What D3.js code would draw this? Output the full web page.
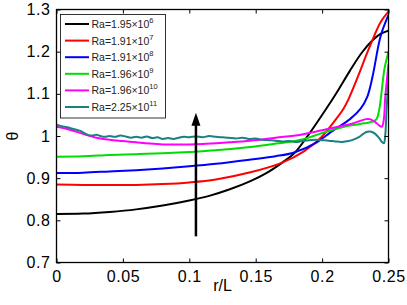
<!DOCTYPE html>
<html>
<head>
<meta charset="utf-8">
<script src="https://cdn.jsdelivr.net/npm/d3@7"></script>
<style>
  body { margin: 0; background: #fff; }
  svg { display: block; font-family: "Liberation Sans", Arial, Helvetica, sans-serif; }
  .tick text { font-size: 16px; fill: #000; }
</style>
</head>
<body>
<svg id="chart" width="407" height="305"></svg>
<script>
// series: [r/L, theta]
var black   = [[0,0.815],[0.02,0.816],[0.04,0.82],[0.06,0.826],[0.08,0.835],[0.1,0.847],[0.115,0.858],[0.13,0.873],[0.146,0.893],[0.158,0.912],[0.17,0.937],[0.179,0.959],[0.19,1.004],[0.203,1.064],[0.212,1.108],[0.221,1.155],[0.23,1.198],[0.238,1.227],[0.244,1.242],[0.25,1.25]];
var red     = [[0,0.885],[0.02,0.884],[0.04,0.884],[0.06,0.884],[0.08,0.886],[0.1,0.89],[0.12,0.897],[0.146,0.914],[0.17,0.937],[0.186,0.963],[0.2,0.999],[0.21,1.038],[0.216,1.064],[0.22,1.088],[0.228,1.149],[0.233,1.19],[0.238,1.228],[0.244,1.27],[0.25,1.295]];
var blue    = [[0,0.912],[0.02,0.913],[0.04,0.916],[0.06,0.919],[0.08,0.923],[0.1,0.928],[0.12,0.934],[0.146,0.944],[0.165,0.952],[0.179,0.961],[0.196,0.985],[0.206,1.008],[0.221,1.04],[0.229,1.065],[0.234,1.093],[0.238,1.141],[0.244,1.236],[0.25,1.287]];
var green   = [[0,0.951],[0.02,0.952],[0.04,0.955],[0.06,0.957],[0.08,0.959],[0.1,0.962],[0.12,0.966],[0.146,0.974],[0.165,0.982],[0.184,0.991],[0.206,1.013],[0.221,1.025],[0.232,1.03],[0.238,1.034],[0.241,1.04],[0.243,1.062],[0.245,1.11],[0.247,1.16],[0.25,1.2]];
var magenta = [[0,1.022],[0.01,1.015],[0.02,1.005],[0.03,0.996],[0.04,0.991],[0.05,0.988],[0.06,0.985],[0.07,0.982],[0.08,0.98],[0.09,0.98],[0.1,0.98],[0.11,0.981],[0.12,0.983],[0.13,0.985],[0.146,0.989],[0.165,0.996],[0.184,1.003],[0.206,1.018],[0.221,1.028],[0.228,1.035],[0.233,1.04],[0.236,1.04],[0.24,1.033],[0.243,1.025],[0.245,1.022],[0.2465,1.04],[0.2475,1.09],[0.249,1.14],[0.25,1.17]];
var teal    = [[0,1.027],[0.003,1.024],[0.006,1.022],[0.009,1.02],[0.012,1.017],[0.015,1.015],[0.018,1.012],[0.021,1.007],[0.024,1.002],[0.027,1.001],[0.03,1.003],[0.033,1.0],[0.036,0.998],[0.04,1.0],[0.044,0.998],[0.048,1.001],[0.052,0.999],[0.056,0.996],[0.06,0.998],[0.064,0.996],[0.068,0.999],[0.072,0.995],[0.076,0.997],[0.08,0.993],[0.084,0.995],[0.088,0.993],[0.092,0.996],[0.096,0.998],[0.1,0.997],[0.105,0.999],[0.11,0.997],[0.115,1.0],[0.12,0.998],[0.125,0.997],[0.13,0.996],[0.135,0.994],[0.14,0.996],[0.145,0.993],[0.15,0.994],[0.155,0.991],[0.16,0.99],[0.165,0.989],[0.17,0.987],[0.175,0.988],[0.18,0.986],[0.185,0.988],[0.19,0.99],[0.195,0.991],[0.2,0.99],[0.205,0.989],[0.21,0.987],[0.215,0.986],[0.22,0.988],[0.224,0.992],[0.228,0.998],[0.231,1.005],[0.234,1.01],[0.237,1.01],[0.24,1.005],[0.243,0.995],[0.245,0.986],[0.2465,0.983],[0.2475,1.0],[0.2485,1.06],[0.25,1.14]];

var seriesData   = [black, red, blue, green, magenta, teal];
var seriesColors = ["#000000", "#ff0000", "#0000ff", "#00dd00", "#ff00ff", "#1a8080"];
var legendMant   = ["1.95", "1.91", "1.91", "1.96", "1.96", "2.25"];
var legendExp    = ["6", "7", "8", "9", "10", "11"];

var xTicks = [0, 0.05, 0.1, 0.15, 0.2, 0.25];
var xTickLabels = ["0", "0.05", "0.1", "0.15", "0.2", "0.25"];
var yTicks = [0.7, 0.8, 0.9, 1, 1.1, 1.2, 1.3];
var yTickLabels = ["0.7", "0.8", "0.9", "1", "1.1", "1.2", "1.3"];

// arrow: from low to high Ra
var arrowX = 0.105;
var arrowY = [0.762, 1.055];

var svg = d3.select("#chart");
var m = { left: 56.5, right: 18.5, top: 9.5, bottom: 42.5 };
var W = 407 - m.left - m.right, H = 305 - m.top - m.bottom;

var x = d3.scaleLinear().domain([0, 0.25]).range([0, W]);
var y = d3.scaleLinear().domain([0.7, 1.3]).range([H, 0]);

var g = svg.append("g").attr("transform", "translate(" + m.left + "," + m.top + ")");

var defs = svg.append("defs");
defs.append("clipPath").attr("id", "clip")
  .append("rect").attr("x", 0).attr("y", 0).attr("width", W).attr("height", H);

var line = d3.line()
  .x(function(d) { return x(d[0]); })
  .y(function(d) { return y(d[1]); })
  .curve(d3.curveCatmullRom.alpha(0.5));

g.append("g").attr("clip-path", "url(#clip)")
  .selectAll("path").data(seriesData).enter()
  .append("path")
    .attr("d", line)
    .attr("fill", "none")
    .attr("stroke", function(d, i) { return seriesColors[i]; })
    .attr("stroke-width", 2)
    .attr("stroke-linejoin", "round");

// arrow
var ax = x(arrowX), ay0 = y(arrowY[0]), ay1 = y(arrowY[1]);
g.append("line")
  .attr("x1", ax).attr("x2", ax)
  .attr("y1", ay0).attr("y2", ay1 + 10)
  .attr("stroke", "#000").attr("stroke-width", 2.5);
g.append("path")
  .attr("d", "M" + ax + "," + ay1 + "L" + (ax - 4.5) + "," + (ay1 + 13) + "L" + (ax + 4.5) + "," + (ay1 + 13) + "Z")
  .attr("fill", "#000");

// axes, MATLAB style: inward ticks on all four sides
function styleAxis(sel) {
  sel.select(".domain").remove();
  sel.selectAll(".tick line").attr("stroke", "#000").attr("stroke-width", 1);
}
g.append("g").attr("transform", "translate(0," + H + ")")
  .call(d3.axisBottom(x).tickValues(xTicks).tickFormat(function(d, i) { return xTickLabels[i]; })
        .tickSizeInner(-4).tickSizeOuter(0).tickPadding(8))
  .call(styleAxis)
  .selectAll("text").attr("letter-spacing", "0.6px");
g.append("g")
  .call(d3.axisTop(x).tickValues(xTicks).tickFormat("").tickSizeInner(-4).tickSizeOuter(0))
  .call(styleAxis);
g.append("g")
  .call(d3.axisLeft(y).tickValues(yTicks).tickFormat(function(d, i) { return yTickLabels[i]; })
        .tickSizeInner(-4).tickSizeOuter(0).tickPadding(6))
  .call(styleAxis)
  .selectAll("text").attr("letter-spacing", "0.6px");
g.append("g").attr("transform", "translate(" + W + ",0)")
  .call(d3.axisRight(y).tickValues(yTicks).tickFormat("").tickSizeInner(-4).tickSizeOuter(0))
  .call(styleAxis);

g.append("rect").attr("width", W).attr("height", H)
  .attr("fill", "none").attr("stroke", "#000").attr("stroke-width", 1.3);

// axis labels
svg.append("text")
  .attr("x", m.left + W / 2).attr("y", 291)
  .attr("text-anchor", "middle").attr("font-size", 16)
  .text("r/L");
svg.append("text")
  .attr("transform", "translate(18,136) rotate(-90)")
  .attr("text-anchor", "middle").attr("font-size", 16)
  .text("θ");

// legend
var lg = svg.append("g").attr("transform", "translate(60.5,14.5)");
lg.append("rect").attr("width", 105).attr("height", 103.5)
  .attr("fill", "#fff").attr("stroke", "#000").attr("stroke-width", 0.8);
var items = lg.selectAll("g.item").data(seriesColors).enter()
  .append("g").attr("class", "item")
  .attr("transform", function(d, i) { return "translate(0," + (9.5 + i * 16.6) + ")"; });
items.append("line")
  .attr("x1", 4.5).attr("x2", 28.5)
  .attr("stroke", function(d) { return d; }).attr("stroke-width", 2);
var t = items.append("text")
  .attr("x", 31).attr("y", 4)
  .attr("font-size", 10.5).attr("fill", "#222");
t.append("tspan").text(function(d, i) { return "Ra=" + legendMant[i] + "×10"; });
t.append("tspan").attr("font-size", 7.5).attr("dy", -5)
  .text(function(d, i) { return legendExp[i]; });
</script>
</body>
</html>
